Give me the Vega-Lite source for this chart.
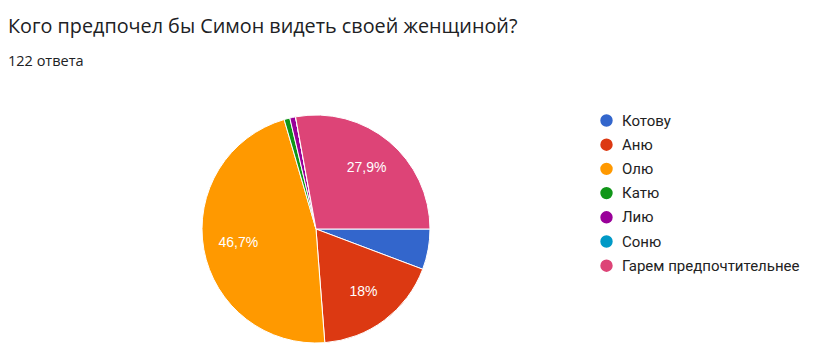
{
  "$schema": "https://vega.github.io/schema/vega-lite/v6.json",
  "autosize": {"type": "none"},
  "width": 632,
  "height": 266,
  "padding": {"left": 0, "top": 96, "right": 197, "bottom": 1},
  "background": "white",
  "title": {
    "text": "Кого предпочел бы Симон видеть своей женщиной?",
    "subtitle": "122 ответа",
    "anchor": "start",
    "frame": "group",
    "dx": 8,
    "offset": 28,
    "font": "Open Sans",
    "fontSize": 19.8,
    "fontWeight": "normal",
    "color": "#202124",
    "subtitleFont": "Open Sans",
    "subtitleFontSize": 14.5,
    "subtitleColor": "#202124",
    "subtitlePadding": 18
  },
  "data": {
    "values": [
      {"name": "Котову", "count": 7, "order": 1, "label": ""},
      {"name": "Аню", "count": 22, "order": 2, "label": "18%"},
      {"name": "Олю", "count": 57, "order": 3, "label": "46,7%"},
      {"name": "Катю", "count": 1, "order": 4, "label": ""},
      {"name": "Лию", "count": 1, "order": 5, "label": ""},
      {"name": "Соню", "count": 0, "order": 6, "label": ""},
      {"name": "Гарем предпочтительнее", "count": 34, "order": 7, "label": "27,9%"}
    ]
  },
  "encoding": {
    "theta": {"field": "count", "type": "quantitative", "stack": true, "scale": {"range": [1.5707963, 7.8539816]}},
    "order": {"field": "order", "type": "quantitative"}
  },
  "layer": [
    {
      "mark": {"type": "arc", "outerRadius": 114, "stroke": "white", "strokeWidth": 1},
      "encoding": {
        "color": {
          "field": "name",
          "type": "nominal",
          "scale": {
            "domain": ["Котову", "Аню", "Олю", "Катю", "Лию", "Соню", "Гарем предпочтительнее"],
            "range": ["#3366cc", "#dc3912", "#ff9900", "#109618", "#990099", "#0099c6", "#dd4477"]
          },
          "legend": {
            "title": null,
            "orient": "none",
            "legendX": 599,
            "legendY": 17,
            "symbolType": "circle",
            "symbolSize": 154,
            "symbolStrokeWidth": 0,
            "labelFont": "Roboto",
            "labelFontSize": 15,
            "labelColor": "#222222",
            "labelOffset": 8,
            "rowPadding": 8.2,
            "labelLimit": 300
          }
        }
      }
    },
    {
      "mark": {"type": "text", "radius": 79, "font": "Liberation Sans", "fontSize": 14, "color": "white"},
      "encoding": {
        "text": {"field": "label", "type": "nominal"}
      }
    }
  ]
}
